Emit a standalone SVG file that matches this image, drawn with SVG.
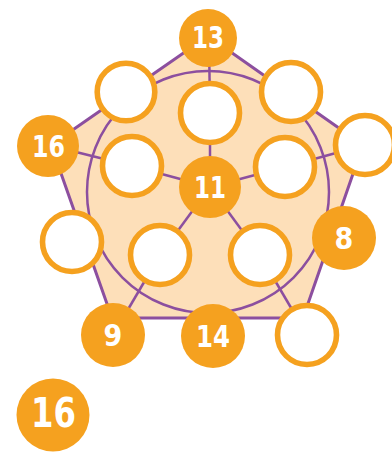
<svg xmlns="http://www.w3.org/2000/svg" width="392" height="454" viewBox="0 0 392 454">
<style>
.edge{stroke:#8C4F9F;stroke-width:2.5;fill:none}
.num circle{fill:#F5A11F}
.num text{fill:#fff;font-family:"DejaVu Sans Condensed","DejaVu Sans",sans-serif;font-weight:bold;font-size:30px;text-anchor:middle}
.blank circle{fill:#fff;stroke:#F5A11F;stroke-width:5.6}
</style>
<rect width="392" height="454" fill="#fff"/>
<polygon points="208,36 363,145 303,318 112,318 51,145" fill="#FDDFB9" stroke="#8C4F9F" stroke-width="3" stroke-linejoin="round"/>
<g id="connectors">
<circle class="edge" cx="208" cy="192" r="121"/>
<line class="edge" x1="209" y1="38" x2="210" y2="113"/>
<line class="edge" x1="210" y1="113" x2="210" y2="187"/>
<line class="edge" x1="210" y1="187" x2="132" y2="166"/>
<line class="edge" x1="210" y1="187" x2="285" y2="167"/>
<line class="edge" x1="210" y1="187" x2="160" y2="255"/>
<line class="edge" x1="210" y1="187" x2="260" y2="255"/>
<line class="edge" x1="160" y1="255" x2="113" y2="335"/>
<line class="edge" x1="260" y1="255" x2="307" y2="335"/>
<line class="edge" x1="132" y1="166" x2="48" y2="145"/>
<line class="edge" x1="285" y1="167" x2="365" y2="145"/>
</g>
<g id="n13" class="num"><circle cx="208" cy="38" r="29"/><text x="208" y="48" textLength="32" lengthAdjust="spacingAndGlyphs">13</text></g>
<g id="n16a" class="num"><circle cx="48" cy="146" r="31"/><text x="48.5" y="157" textLength="33" lengthAdjust="spacingAndGlyphs">16</text></g>
<g id="n11" class="num"><circle cx="210" cy="187" r="31"/><text x="210" y="198" textLength="32" lengthAdjust="spacingAndGlyphs">11</text></g>
<g id="n8" class="num"><circle cx="344" cy="238" r="32"/><text x="344" y="249">8</text></g>
<g id="n9" class="num"><circle cx="113" cy="335" r="32"/><text x="113" y="346">9</text></g>
<g id="n14" class="num"><circle cx="213" cy="336" r="32"/><text x="213" y="347" textLength="34" lengthAdjust="spacingAndGlyphs">14</text></g>
<g id="n16b" class="num"><circle cx="53" cy="415" r="36.5"/><text x="53.5" y="427" style="font-size:41px" textLength="45" lengthAdjust="spacingAndGlyphs">16</text></g>
<g id="b1" class="blank"><circle cx="126" cy="92" r="28.8"/></g>
<g id="b2" class="blank"><circle cx="210" cy="113" r="29.5"/></g>
<g id="b3" class="blank"><circle cx="291" cy="92" r="29.5"/></g>
<g id="b4" class="blank"><circle cx="365" cy="145" r="29.5"/></g>
<g id="b5" class="blank"><circle cx="132" cy="166" r="29.5"/></g>
<g id="b6" class="blank"><circle cx="285" cy="167" r="29.5"/></g>
<g id="b7" class="blank"><circle cx="72" cy="242" r="29.5"/></g>
<g id="b8" class="blank"><circle cx="160" cy="255" r="29.5"/></g>
<g id="b9" class="blank"><circle cx="260" cy="255" r="29.5"/></g>
<g id="b10" class="blank"><circle cx="307" cy="335" r="29.5"/></g>
</svg>
